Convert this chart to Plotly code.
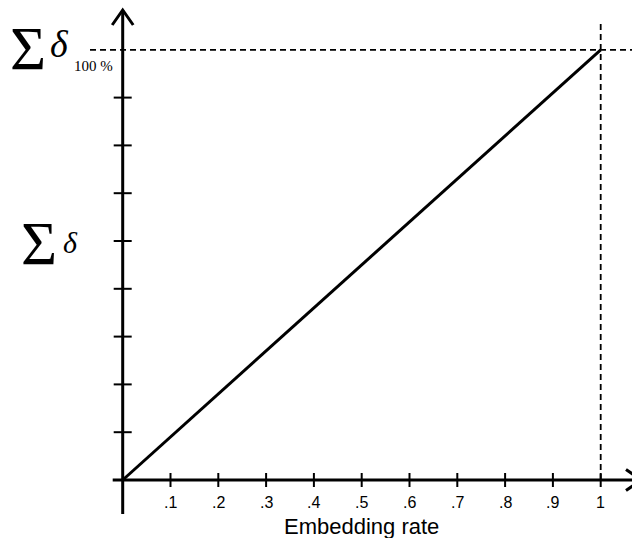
import plotly.graph_objects as go

# Data: the cumulative distortion grows linearly with the embedding rate
rate = [0.0, 1.0]
sum_delta = [0.0, 9.0]
x_ticks = [0.1, 0.2, 0.3, 0.4, 0.5, 0.6, 0.7, 0.8, 0.9, 1.0]
x_tick_labels = [".1", ".2", ".3", ".4", ".5", ".6", ".7", ".8", ".9", "1"]
y_ticks = [1, 2, 3, 4, 5, 6, 7, 8]
full_rate = 1.0
full_delta = 9.0

W, H = 632, 538
# pixel scale of each axis (used to express tick/arrow sizes in pixels)
X0_PX, Y0_PX = 122.7, 480.0
X_PX = 478.0     # pixels per unit of rate
Y_PX = 47.8      # pixels per unit of sum_delta
xr = [-X0_PX / X_PX, (W - X0_PX) / X_PX]
yr = [-(H - Y0_PX) / Y_PX, Y0_PX / Y_PX]

def dx(px):
    return px / X_PX

def dy(px):
    return px / Y_PX

shapes = []
AX = dict(color="black", width=3)

# axes
shapes.append(dict(type="line", xref="x", yref="y", x0=-dx(10), y0=0, x1=dx(W - X0_PX + 8), y1=0, line=AX))
shapes.append(dict(type="line", xref="x", yref="y", x0=0, y0=-dy(34), x1=0, y1=dy(Y0_PX - 10), line=AX))

# arrow heads (open chevrons)
ty = dy(Y0_PX - 10)
shapes.append(dict(type="path", xref="x", yref="y",
                   path=f"M {-dx(10.5)},{ty - dy(15)} L 0,{ty} L {dx(10.5)},{ty - dy(15)}",
                   line=AX))
tx = dx(W - X0_PX + 9)
shapes.append(dict(type="path", xref="x", yref="y",
                   path=f"M {tx - dx(15)},{dy(10.5)} L {tx},0 L {tx - dx(15)},{-dy(10.5)}",
                   line=AX))

# cross ticks
TK = dict(color="black", width=2)
for v in x_ticks:
    shapes.append(dict(type="line", xref="x", yref="y", x0=v, x1=v, y0=-dy(7), y1=dy(7), line=TK))
for v in y_ticks:
    shapes.append(dict(type="line", xref="x", yref="y", x0=-dx(9), x1=dx(9), y0=v, y1=v, line=TK))

# dashed reference lines at the 100% embedding point
DL = dict(color="black", width=1.8, dash="6px,4px")
shapes.append(dict(type="line", xref="x", yref="y", x0=-dx(X0_PX - 90), x1=xr[1], y0=full_delta, y1=full_delta, line=DL))
shapes.append(dict(type="line", xref="x", yref="y", x0=full_rate, x1=full_rate, y0=0, y1=dy(Y0_PX - 22), line=DL))

fig = go.Figure()
fig.add_trace(go.Scatter(x=rate, y=sum_delta, mode="lines",
                         line=dict(color="black", width=3), hoverinfo="skip", showlegend=False))

annotations = []
sans = "Liberation Sans"
serif = "Liberation Serif"
for v, t in zip(x_ticks, x_tick_labels):
    annotations.append(dict(x=v, y=0, xref="x", yref="y", text=t, showarrow=False,
                            yshift=-22, xanchor="center", yanchor="middle",
                            font=dict(family=sans, size=16, color="black")))
annotations.append(dict(x=0.5, y=0, xref="x", yref="y", text="Embedding rate", showarrow=False,
                        yshift=-46, xanchor="center", yanchor="middle",
                        font=dict(family=sans, size=22, color="black")))

def px_paper(x, y):
    return x / W, 1 - y / H

# Σδ labels: the full-rate total at the top and the running total beside the axis
for txt, (px, py), size, style in [
    ("Σ", (28, 48), 62, "normal"),
    ("δ", (59, 44), 38, "italic"),
    ("100 %", (94, 66), 15, "normal"),
    ("Σ", (39, 243), 62, "normal"),
    ("δ", (70, 243), 30, "italic"),
]:
    ax_, ay_ = px_paper(px, py)
    annotations.append(dict(x=ax_, y=ay_, xref="paper", yref="paper", text=txt, showarrow=False,
                            xanchor="center", yanchor="middle",
                            font=dict(family=serif, size=size, color="black", style=style)))

fig.update_layout(
    width=W, height=H,
    margin=dict(l=0, r=0, t=0, b=0),
    paper_bgcolor="white", plot_bgcolor="white",
    xaxis=dict(range=xr, visible=False, fixedrange=True),
    yaxis=dict(range=yr, visible=False, fixedrange=True),
    shapes=shapes,
    annotations=annotations,
    showlegend=False,
)

fig.write_html("out.html")
